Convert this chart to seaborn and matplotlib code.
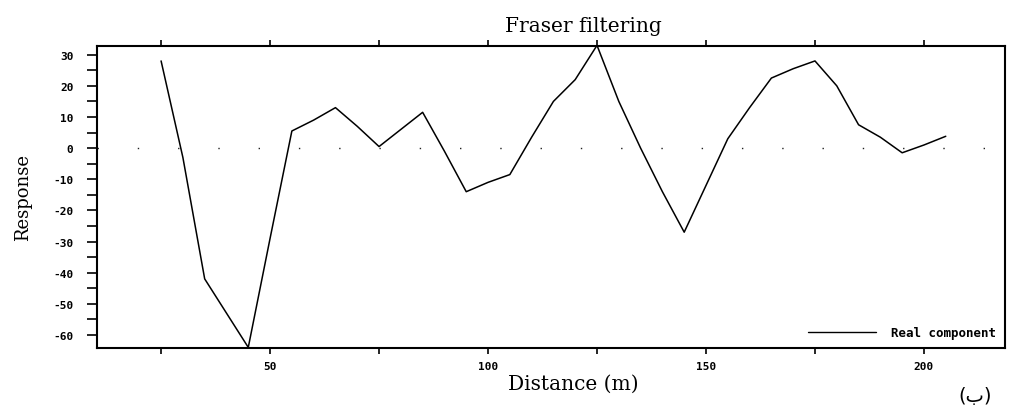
import matplotlib
matplotlib.use("Agg")
import matplotlib.pyplot as plt
import seaborn as sns
import pandas as pd
from matplotlib.ticker import MultipleLocator

distance = [25, 30, 35, 40, 45, 50, 55, 60, 65, 70, 75, 80, 85, 90, 95, 100,
            105, 110, 115, 120, 125, 130, 135, 140, 145, 150, 155, 160, 165,
            170, 175, 180, 185, 190, 195, 200, 205]
real_component = [28, -3, -42, -53, -64, -29, 5.5, 9, 13, 7, 0.5, 6, 11.5, -1,
                   -14, -11, -8.5, 3.5, 15, 22, 33, 15, 0, -14, -27, -12, 3, 13,
                   22.5, 25.5, 28, 20, 7.5, 3.5, -1.5, 1, 3.8]
y_ticks = [30, 20, 10, 0, -10, -20, -30, -40, -50, -60]
x_ticks = [50, 100, 150, 200]

df = pd.DataFrame({"Distance": distance, "Response": real_component,
                   "series": "Real component"})

sns.set_style("white")
plt.rcParams["font.family"] = ["DejaVu Serif", "DejaVu Sans"]
plt.rcParams["axes.unicode_minus"] = False
plt.rcParams["text.color"] = "black"
plt.rcParams["axes.labelcolor"] = "black"
plt.rcParams["xtick.color"] = "black"
plt.rcParams["ytick.color"] = "black"

fig = plt.figure(figsize=(10.19, 4.14), dpi=100)
ax = fig.add_axes([0.0952, 0.157, 0.8911, 0.7295])

ax.axhline(0, color="#222222", lw=1.0, linestyle=(0, (1, 28)), zorder=1)
sns.lineplot(data=df, x="Distance", y="Response", hue="series",
             palette=["black"], lw=1.1, ax=ax, legend=True)

ax.set_xlim(10.3, 218.6)
ax.set_ylim(-64.2, 32.8)
ax.set_xticks(x_ticks)
ax.set_yticks(y_ticks)
ax.xaxis.set_minor_locator(MultipleLocator(25))
ax.yaxis.set_minor_locator(MultipleLocator(5))

for s in ax.spines.values():
    s.set_linewidth(1.5)
    s.set_color("black")

ax.tick_params(axis="both", which="both", direction="out", color="black",
               labelcolor="black", width=1.2, left=True, bottom=True,
               top=True, right=False)
ax.tick_params(axis="y", which="both", length=7, pad=10)
ax.tick_params(axis="x", which="both", length=4, pad=5)

for lbl in ax.get_xticklabels() + ax.get_yticklabels():
    lbl.set_fontfamily("DejaVu Sans Mono")
    lbl.set_fontweight("bold")
    lbl.set_fontsize(8)

ax.set_xlabel("Distance (m)", fontsize=14.5, labelpad=0, color="black")
ax.xaxis.set_label_coords(0.525, -0.085)
ax.set_ylabel("Response", fontsize=13, color="black")
ax.yaxis.set_label_coords(-0.072, 0.5)
ax.set_title("Fraser filtering", fontsize=14.5, x=0.536, pad=11, color="black")

leg = ax.legend(loc="lower right", frameon=False, handlelength=5.5,
                borderaxespad=0.3, handletextpad=1.2,
                prop={"family": "DejaVu Sans Mono", "weight": "bold", "size": 9})
for h in leg.get_lines():
    h.set_linewidth(1.0)
for t in leg.get_texts():
    t.set_color("black")

fig.text(0.957, 0.02, "(ب)", fontsize=14, ha="center", va="bottom",
         family=["DejaVu Sans"], color="black")

fig.savefig("out.png", dpi=100)
